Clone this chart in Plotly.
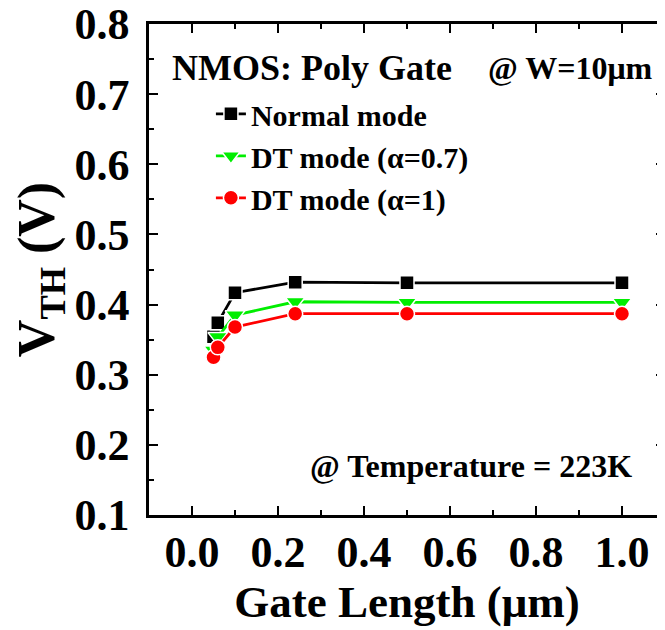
import plotly.graph_objects as go

gate_length = [0.05, 0.06, 0.1, 0.24, 0.5, 1.0]
vth_normal = [0.354, 0.374, 0.417, 0.432, 0.431, 0.431]
vth_dt07 = [0.335, 0.354, 0.385, 0.404, 0.403, 0.403]
vth_dt1 = [0.325, 0.339, 0.368, 0.387, 0.387, 0.387]

series = [
    ("Normal mode", vth_normal, "black", "square", 14),
    ("DT mode (α=0.7)", vth_dt07, "#00EE00", "triangle-down", 17),
    ("DT mode (α=1)", vth_dt1, "#FF0000", "circle", 15),
]

FONT = "Liberation Serif"

fig = go.Figure()
for name, vals, color, sym, size in series:
    fig.add_trace(go.Scatter(
        x=gate_length, y=vals, name=name, mode="lines+markers",
        line=dict(color=color, width=2.8),
        marker=dict(symbol=sym, size=size, color=color,
                    line=dict(color="white", width=1.5)),
    ))

axis_common = dict(
    showline=True, linecolor="black", linewidth=2.5, mirror="ticks",
    ticks="inside", ticklen=9, tickwidth=2, tickcolor="black",
    showgrid=False, zeroline=False, automargin=False,
    ticklabeloverflow="allow",
    tickfont=dict(family=FONT, size=44, color="black", weight="bold"),
)

fig.update_xaxes(
    range=[-0.1, 1.1], tickvals=[0, 0.2, 0.4, 0.6, 0.8, 1.0],
    ticktext=["0.0", "0.2", "0.4", "0.6", "0.8", "1.0"],
    minor=dict(ticks="inside", ticklen=5, tickwidth=2, tickcolor="black", dtick=0.1, tick0=0),
    title=dict(text="<b>Gate Length (μm)</b>", font=dict(family=FONT, size=45, color="black"), standoff=10),
    ticklabelstandoff=-4,
    **axis_common,
)
fig.update_yaxes(
    range=[0.1, 0.8], tickvals=[0.1, 0.2, 0.3, 0.4, 0.5, 0.6, 0.7, 0.8],
    ticktext=["0.1", "0.2", "0.3", "0.4", "0.5", "0.6", "0.7", "0.8"],
    minor=dict(ticks="inside", ticklen=5, tickwidth=2, tickcolor="black", dtick=0.05, tick0=0.1),
    title=dict(text="<b>V<sub>TH</sub> (V)</b>", font=dict(family=FONT, size=52, color="black"), standoff=9),
    ticklabelstandoff=8,
    **axis_common,
)

fig.update_layout(
    width=665, height=630,
    margin=dict(l=141, r=8, t=16, b=123, autoexpand=False),
    paper_bgcolor="white", plot_bgcolor="white",
    font=dict(family=FONT, color="black"),
    showlegend=True,
    legend=dict(
        x=0.12, y=0.87, xanchor="left", yanchor="top",
        bgcolor="rgba(0,0,0,0)", borderwidth=0,
        font=dict(family=FONT, size=30, color="black", weight="bold"),
        itemwidth=30, tracegroupgap=0,
    ),
)

# positions given in screen pixels of the plot domain (left 149, right 665, top 24, bottom 515)
W0, W1 = 149, 665
T0, B0 = 24, 515
def px2dx(px):
    return (px - W0) / (W1 - W0)
def py2dy(py):
    return (B0 - py) / (B0 - T0)

for txt, cx, cy, size in [
    ("<b>NMOS: Poly Gate</b>", 312, 68, 36),
    ("<b>@ W=10μm</b>", 570, 68, 32),
    ("<b>@ Temperature = 223K</b>", 471, 466, 32),
]:
    fig.add_annotation(text=txt, x=px2dx(cx), y=py2dy(cy), xref="x domain", yref="y domain",
                       xanchor="center", yanchor="middle", showarrow=False,
                       font=dict(family=FONT, size=size, color="black"))

fig.write_html("out.html")
